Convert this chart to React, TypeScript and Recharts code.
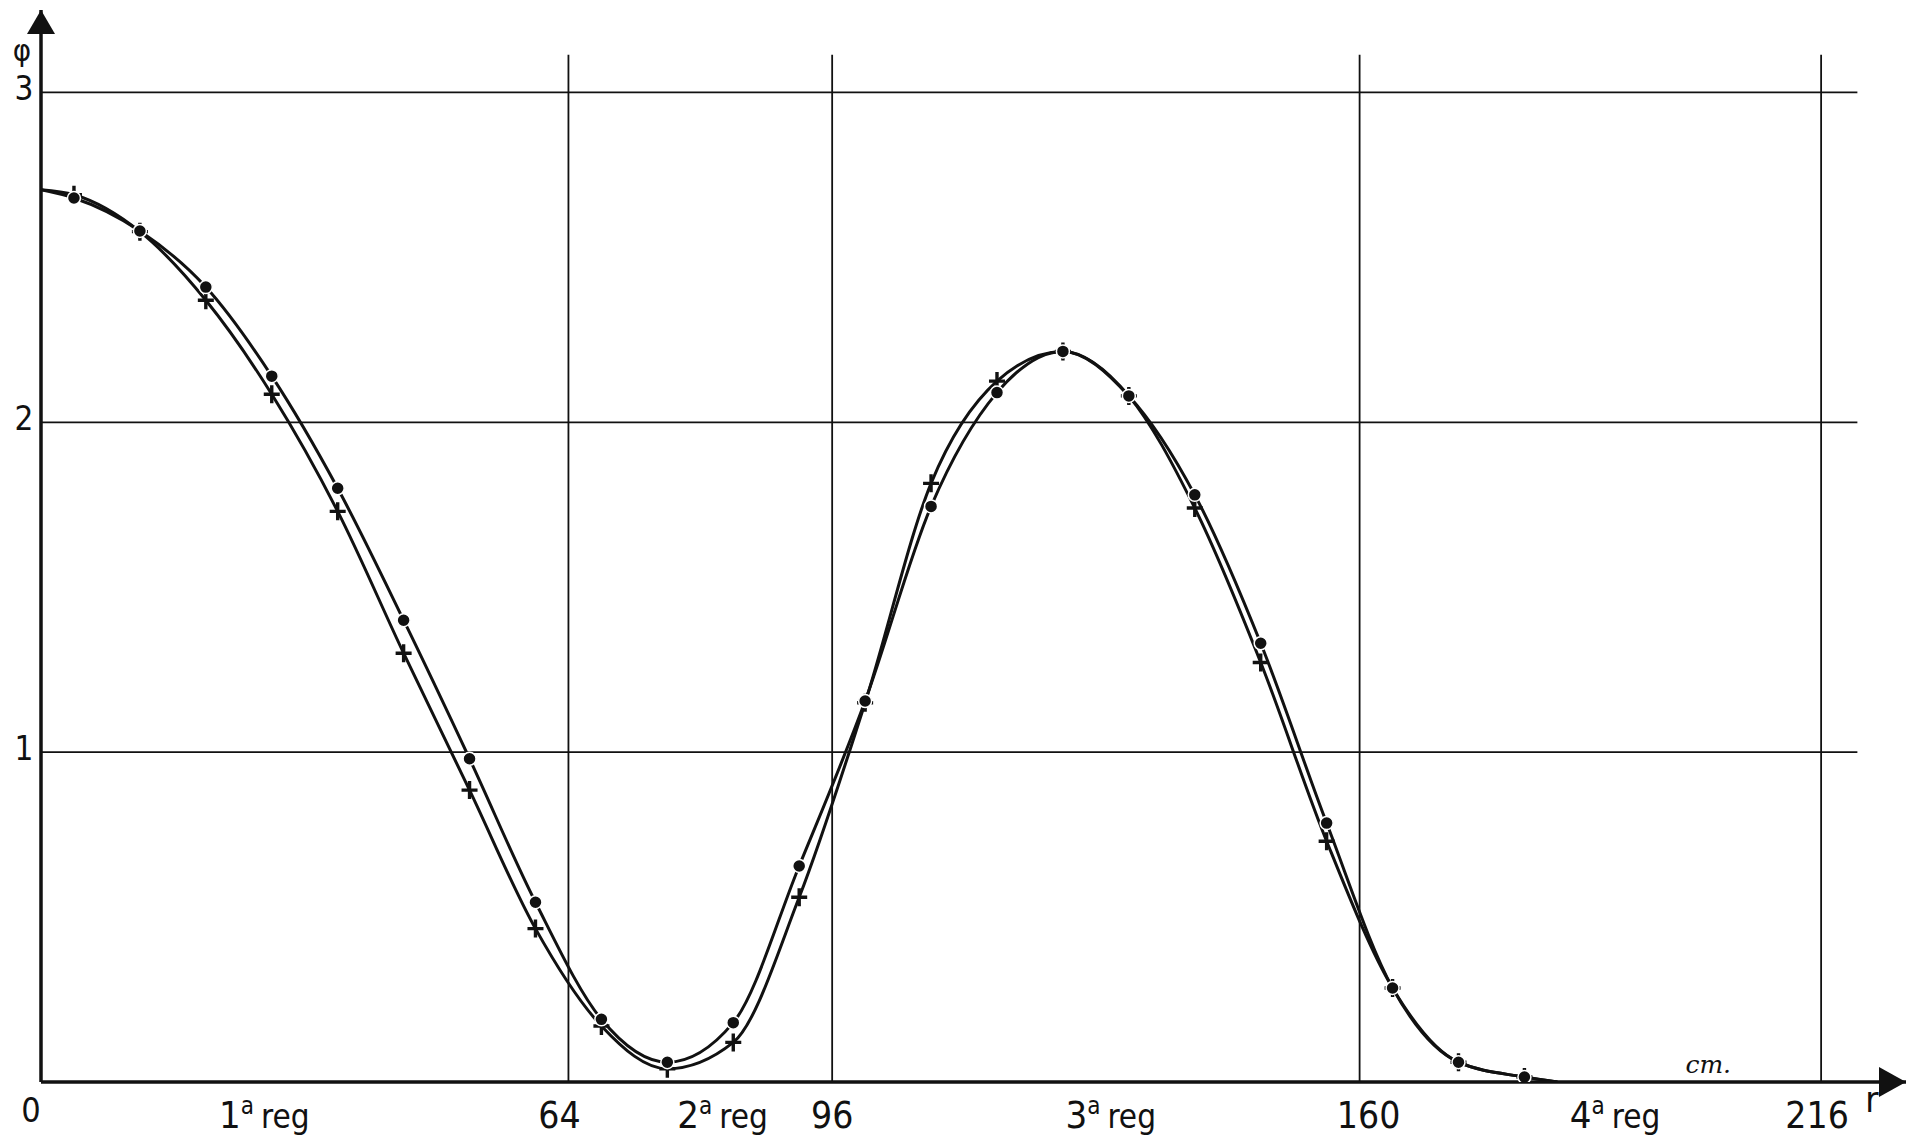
import { LineChart, Line, XAxis, YAxis, ReferenceLine, ReferenceDot } from 'recharts';

// r (cm) at which phi was computed; first and last entries are the curve ends (no marker)
const rValues = [0, 4, 12, 20, 28, 36, 44, 52, 60, 68, 76, 84, 92, 100, 108, 116, 124, 132, 140, 148, 156, 164, 172, 180, 184];
const phiDot = [2.705, 2.68, 2.58, 2.41, 2.14, 1.8, 1.4, 0.98, 0.545, 0.19, 0.06, 0.18, 0.655, 1.155, 1.745, 2.09, 2.215, 2.08, 1.78, 1.33, 0.785, 0.285, 0.06, 0.015, 0];
const phiCross = [2.705, 2.69, 2.578, 2.37, 2.085, 1.73, 1.3, 0.885, 0.465, 0.17, 0.04, 0.12, 0.56, 1.15, 1.815, 2.125, 2.215, 2.08, 1.74, 1.272, 0.73, 0.285, 0.06, 0.015, 0];

const xTicks = [0, 64, 96, 160, 216];
const yTicks = [1, 2, 3];
const regionCenters = [27.1, 82.7, 129.8, 191];
const regionNames = ['1', '2', '3', '4'];
const xAxisName = 'r';
const yAxisName = 'φ';
const unitLabel = 'cm.';

const data = rValues.map((r, i) => ({ r, dot: phiDot[i], cross: phiCross[i] }));

const X_MAX = 226.3;
const Y_MAX = 3.25;
const GRID_TOP = 3.114;
const GRID_RIGHT = 220.4;
const PHI_AT = 3.115;

const INK = '#111';
const FONT = "'DejaVu Sans Condensed', 'DejaVu Sans', sans-serif";

const tickShift: Record<number, number> = { 64: -9, 96: 0, 160: 9, 216: -4 };

function XTick(props: any) {
  const { x, payload } = props;
  const v = payload.value;
  const ri = regionCenters.indexOf(v);
  if (ri >= 0) {
    return (
      <text x={x} y={1128} textAnchor="middle" fontFamily={FONT} fill={INK} fontSize={33}>
        <tspan fontSize={38}>{regionNames[ri]}</tspan>
        <tspan fontSize={24} dy={-14}>a</tspan>
        <tspan dy={14} dx={7}>reg</tspan>
      </text>
    );
  }
  if (v === 0) {
    return (
      <text x={31} y={1122} textAnchor="middle" fontFamily={FONT} fill={INK} fontSize={34}>
        0
      </text>
    );
  }
  return (
    <text x={x + (tickShift[v] || 0)} y={1128} textAnchor="middle" fontFamily={FONT} fill={INK} fontSize={37}>
      {v}
    </text>
  );
}

function YTick(props: any) {
  const { y, payload } = props;
  if (payload.value === PHI_AT) {
    return (
      <text x={22} y={y + 6} textAnchor="middle" fontFamily={FONT} fill={INK} fontSize={31}>
        {yAxisName}
      </text>
    );
  }
  return (
    <text x={24} y={y + 8} textAnchor="middle" fontFamily={FONT} fill={INK} fontSize={33}>
      {payload.value}
    </text>
  );
}

const skipEnds = (i: number) => i === 0 || i === rValues.length - 1;

function DotMark(props: any) {
  const { cx, cy, index } = props;
  if (skipEnds(index)) return <g key={`d${index}`} />;
  return <circle key={`d${index}`} cx={cx} cy={cy} r={6.5} fill={INK} stroke="#fff" strokeWidth={1.5} />;
}

function CrossMark(props: any) {
  const { cx, cy, index } = props;
  if (skipEnds(index)) return <g key={`c${index}`} />;
  return (
    <path
      key={`c${index}`}
      d={`M${cx - 8},${cy}H${cx + 8}M${cx},${cy - 9}V${cy + 9}`}
      stroke={INK}
      strokeWidth={3.4}
      fill="none"
    />
  );
}

export default function App() {
  return (
    <div style={{ position: 'absolute', left: 0, top: 0, width: 1906, height: 1138, background: '#fff' }}>
      <LineChart
        width={1906}
        height={1138}
        data={data}
        margin={{ top: 10, right: 0, bottom: 0, left: 0 }}
        style={{ fontFamily: FONT }}
      >
        <XAxis
          type="number"
          dataKey="r"
          domain={[0, X_MAX]}
          allowDataOverflow
          ticks={[...xTicks, ...regionCenters]}
          interval={0}
          tickLine={false}
          axisLine={{ stroke: INK, strokeWidth: 3.5 }}
          height={56}
          tick={<XTick />}
        />
        <YAxis
          type="number"
          domain={[0, Y_MAX]}
          allowDataOverflow
          ticks={[...yTicks, PHI_AT]}
          interval={0}
          tickLine={false}
          axisLine={{ stroke: INK, strokeWidth: 3.5 }}
          width={41}
          tick={<YTick />}
        />
        {yTicks.map((v) => (
          <ReferenceLine
            key={`h${v}`}
            segment={[{ x: 0, y: v }, { x: GRID_RIGHT, y: v }]}
            stroke={INK}
            strokeWidth={1.8}
          />
        ))}
        {xTicks.filter((v) => v > 0).map((v) => (
          <ReferenceLine
            key={`v${v}`}
            segment={[{ x: v, y: 0 }, { x: v, y: GRID_TOP }]}
            stroke={INK}
            strokeWidth={1.8}
          />
        ))}
        <Line
          type="monotone"
          dataKey="cross"
          stroke={INK}
          strokeWidth={3}
          dot={CrossMark}
          activeDot={false}
          isAnimationActive={false}
        />
        <Line
          type="monotone"
          dataKey="dot"
          stroke={INK}
          strokeWidth={3}
          dot={DotMark}
          activeDot={false}
          isAnimationActive={false}
        />
        <ReferenceDot
          x={0}
          y={Y_MAX}
          ifOverflow="visible"
          shape={(p: any) => (
            <polygon points={`${p.cx},${p.cy} ${p.cx - 14},${p.cy + 24} ${p.cx + 14},${p.cy + 24}`} fill={INK} />
          )}
        />
        <ReferenceDot
          x={X_MAX}
          y={0}
          ifOverflow="visible"
          shape={(p: any) => (
            <g>
              <polygon points={`${p.cx},${p.cy} ${p.cx - 27},${p.cy - 15} ${p.cx - 27},${p.cy + 15}`} fill={INK} />
              <text x={p.cx - 34} y={p.cy + 30} textAnchor="middle" fontFamily={FONT} fontSize={36} fill={INK}>
                {xAxisName}
              </text>
            </g>
          )}
        />
        <ReferenceDot
          x={202.3}
          y={0}
          ifOverflow="visible"
          shape={(p: any) => (
            <text
              x={p.cx}
              y={p.cy - 9}
              textAnchor="middle"
              fontFamily="'DejaVu Serif', serif"
              fontStyle="italic"
              fontSize={25}
              fill={INK}
            >
              {unitLabel}
            </text>
          )}
        />
      </LineChart>
    </div>
  );
}
